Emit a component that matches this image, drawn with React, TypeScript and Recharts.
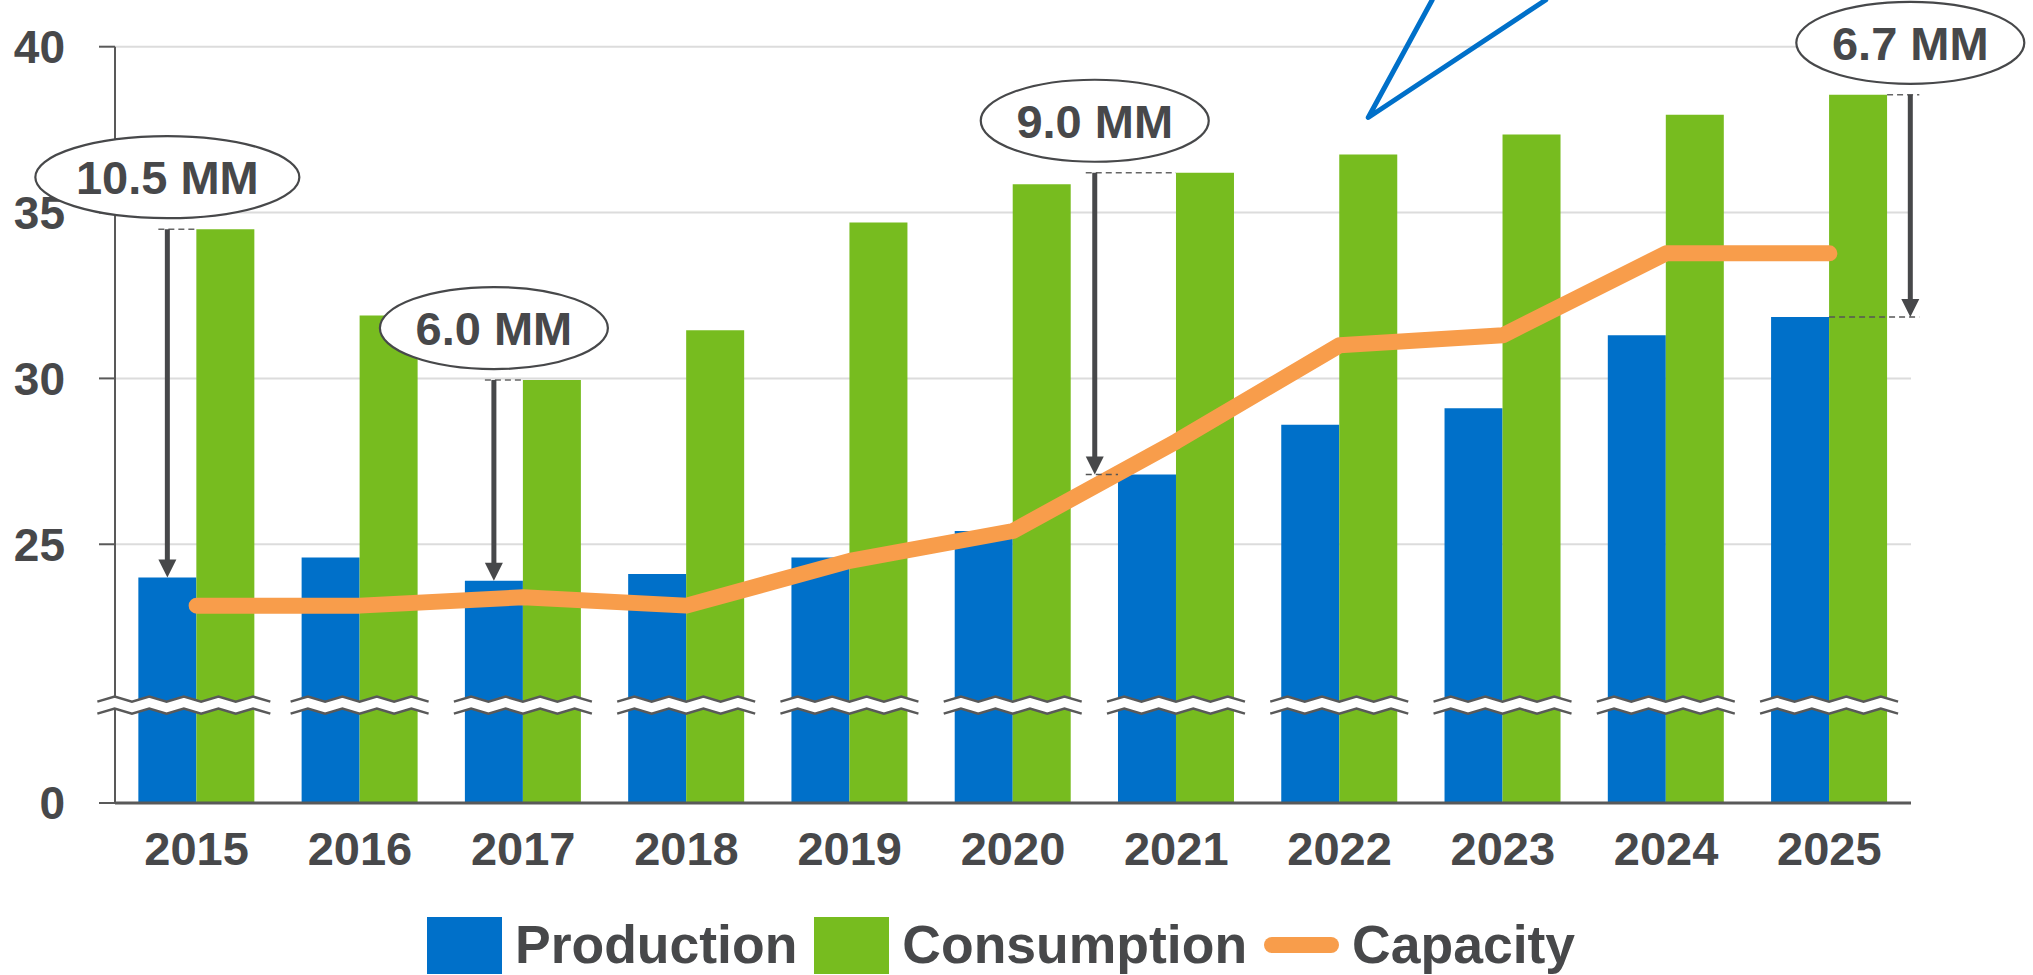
import React from 'react';
import {
  ComposedChart,
  Bar,
  Line,
  XAxis,
  YAxis,
  CartesianGrid,
  Legend,
  LabelList
} from 'recharts';

const years = ['2015', '2016', '2017', '2018', '2019', '2020', '2021', '2022', '2023', '2024', '2025'];
const production = [24.0, 24.6, 23.9, 24.1, 24.6, 25.4, 27.1, 28.6, 29.1, 31.3, 31.85];
const consumption = [34.5, 31.9, 29.95, 31.45, 34.7, 35.85, 36.2, 36.75, 37.35, 37.95, 38.55];
const capacity = [23.15, 23.15, 23.4, 23.15, 24.5, 25.4, 28.1, 31.0, 31.3, 33.77, 33.77];

// gap annotations (consumption - production)
const gapYears = [0, 2, 6, 10];
const gapLabels = ['10.5 MM', '6.0 MM', '9.0 MM', '6.7 MM'];
const gapAnchors = ['bar', 'bar', 'start', 'end'];

// broken axis: bottom of the plot stands for 0
const Y_MIN = 17.2;
const Y_MAX = 40;
const BREAK_AT = 20.15;
const yTicks = [Y_MIN, 25, 30, 35, 40];

const BLUE = '#0070C9';
const GREEN = '#77BC1F';
const ORANGE = '#F89D4B';
const TEXT = '#47484A';
const AXIS = '#595959';
const FONT = '"Liberation Sans", Arial, sans-serif';
const CAT_GAP = 0.143;

const data = years.map((year, i) => ({
  year,
  production: production[i],
  consumption: consumption[i],
  capacity: capacity[i]
}));

const zigzag = (x0: number, x1: number, yLow: number, yHigh: number) => {
  const n = Math.max(2, Math.round((x1 - x0) / 17.25));
  const step = (x1 - x0) / n;
  const pts: [number, number][] = [];
  for (let i = 0; i <= n; i++) pts.push([x0 + i * step, i % 2 === 0 ? yLow : yHigh]);
  return pts;
};

const Overlay = (props: any) => {
  const vb = props.viewBox || {};
  const x = props.x ?? vb.x;
  const y = props.y ?? vb.y;
  const w = props.width ?? vb.width;
  const h = props.height ?? vb.height;
  const index = props.index;
  if (x == null || index == null) return null;
  const value = consumption[index];
  const bottom = y + h;
  const ppu = h / (value - Y_MIN);
  const yOf = (v: number) => bottom - (v - Y_MIN) * ppu;

  const prodLeft = x - w;
  const consRight = x + w;
  const band = (2 * w) / (1 - 2 * CAT_GAP);
  const side = CAT_GAP * band;

  // axis break
  const c = yOf(BREAK_AT);
  const bx0 = prodLeft - 11 - (index === 0 ? 30 : 0);
  const bx1 = consRight + 11 + (index === 0 ? 5 : 0);
  const upper = zigzag(bx0, bx1, c - 3.5, c - 8.5);
  const lower = zigzag(bx0, bx1, c + 8.5, c + 3.5);
  const poly = [...upper, ...lower.slice().reverse()].map(p => p.join(',')).join(' ');

  const parts: React.ReactNode[] = [
    <polygon key="bf" points={poly} fill="#fff" stroke="none" />,
    <polyline key="bu" points={upper.map(p => p.join(',')).join(' ')} fill="none" stroke={AXIS} strokeWidth={2.5} />,
    <polyline key="bl" points={lower.map(p => p.join(',')).join(' ')} fill="none" stroke={AXIS} strokeWidth={2.5} />
  ];

  const k = gapYears.indexOf(index);
  if (k >= 0) {
    const anchor = gapAnchors[k];
    const ax = anchor === 'bar' ? x - w / 2 : anchor === 'start' ? prodLeft - side : consRight + side;
    const top = yOf(consumption[index]);
    const bot = yOf(production[index]);
    const rx = gapLabels[k].length > 6 ? 132 : 114;
    const ry = 41;
    const cy = top - 11 - ry;
    if (ax < x) {
      parts.push(<line key="dt" x1={ax - 9} y1={top} x2={x} y2={top} stroke="#666" strokeWidth={1.5} strokeDasharray="6 4" />);
    } else {
      parts.push(<line key="dt" x1={consRight} y1={top} x2={ax + 9} y2={top} stroke="#666" strokeWidth={1.5} strokeDasharray="6 4" />);
    }
    if (ax < prodLeft) {
      parts.push(<line key="db" x1={ax - 9} y1={bot} x2={prodLeft} y2={bot} stroke="#555" strokeWidth={1.5} strokeDasharray="6 4" />);
    } else if (ax > x) {
      parts.push(<line key="db" x1={x} y1={bot} x2={ax + 9} y2={bot} stroke="#555" strokeWidth={1.5} strokeDasharray="6 4" />);
    }
    parts.push(
      <line key="ar" x1={ax} y1={top} x2={ax} y2={bot - 16} stroke={TEXT} strokeWidth={5} />,
      <polygon key="ah" points={`${ax - 9},${bot - 18} ${ax + 9},${bot - 18} ${ax},${bot}`} fill={TEXT} />,
      <ellipse key="el" cx={ax} cy={cy} rx={rx} ry={ry} fill="#fff" stroke={TEXT} strokeWidth={2.2} />,
      <text
        key="tx"
        x={ax}
        y={cy}
        dy="0.36em"
        textAnchor="middle"
        fontFamily={FONT}
        fontWeight={700}
        fontSize={47}
        fill={TEXT}
      >
        {gapLabels[k]}
      </text>
    );
  }

  // blue callout pointer above 2022
  if (index === 7) {
    const tx = x + w / 2;
    const ty = y - 37;
    parts.push(
      <polyline
        key="co"
        points={`${tx + ty * 0.544},0 ${tx},${ty} ${tx + ty * 1.51},0`}
        fill="none"
        stroke={BLUE}
        strokeWidth={5}
        strokeLinejoin="round"
        strokeLinecap="round"
      />
    );
  }

  return <g>{parts}</g>;
};

const legendItems = [
  { name: 'Production', color: BLUE, kind: 'box' },
  { name: 'Consumption', color: GREEN, kind: 'box' },
  { name: 'Capacity', color: ORANGE, kind: 'line' }
];

const renderLegend = () => (
  <div
    style={{
      height: 60,
      display: 'flex',
      alignItems: 'center',
      paddingLeft: 427,
      fontFamily: FONT,
      fontWeight: 700,
      fontSize: 53.5,
      color: TEXT
    }}
  >
    {legendItems.map(item => (
      <div key={item.name} style={{ display: 'flex', alignItems: 'center', marginRight: 17 }}>
        {item.kind === 'box' ? (
          <div style={{ width: 75, height: 57, background: item.color }} />
        ) : (
          <div style={{ width: 75, height: 16, borderRadius: 8, background: item.color }} />
        )}
        <span style={{ marginLeft: 13, lineHeight: '60px' }}>{item.name}</span>
      </div>
    ))}
  </div>
);

export default function App() {
  return (
    <div style={{ width: 2033, height: 975 }}>
      <style>{'body{margin:0;background:#fff}'}</style>
      <ComposedChart
        width={2033}
        height={975}
        data={data}
        margin={{ top: 46.7, right: 122, left: 0, bottom: 42 }}
        barGap={0}
        barCategoryGap="14.3%"
      >
        <CartesianGrid vertical={false} stroke="#DCDCDC" strokeWidth={2} />
        <XAxis
          dataKey="year"
          height={70}
          tickLine={false}
          tickSize={0}
          tickMargin={29}
          axisLine={{ stroke: AXIS, strokeWidth: 3 }}
          tick={{ fill: TEXT, fontSize: 47, fontWeight: 700, fontFamily: FONT }}
        />
        <YAxis
          width={115}
          type="number"
          domain={[Y_MIN, Y_MAX]}
          allowDataOverflow
          ticks={yTicks}
          interval={0}
          tickFormatter={(v: number) => (v === Y_MIN ? '0' : String(v))}
          tickSize={16}
          tickMargin={34}
          axisLine={{ stroke: AXIS, strokeWidth: 2 }}
          tickLine={{ stroke: AXIS, strokeWidth: 2 }}
          tick={{ fill: TEXT, fontSize: 46, fontWeight: 700, fontFamily: FONT }}
        />
        <Legend
          verticalAlign="bottom"
          content={renderLegend}
          wrapperStyle={{ left: 0, bottom: 0, width: 2033, height: 60 }}
        />
        <Bar dataKey="production" name="Production" fill={BLUE} isAnimationActive={false} />
        <Bar dataKey="consumption" name="Consumption" fill={GREEN} isAnimationActive={false}>
          <LabelList dataKey="consumption" content={Overlay} />
        </Bar>
        <Line
          type="linear"
          dataKey="capacity"
          name="Capacity"
          stroke={ORANGE}
          strokeWidth={16}
          strokeLinecap="round"
          strokeLinejoin="round"
          dot={false}
          activeDot={false}
          isAnimationActive={false}
        />
      </ComposedChart>
    </div>
  );
}
